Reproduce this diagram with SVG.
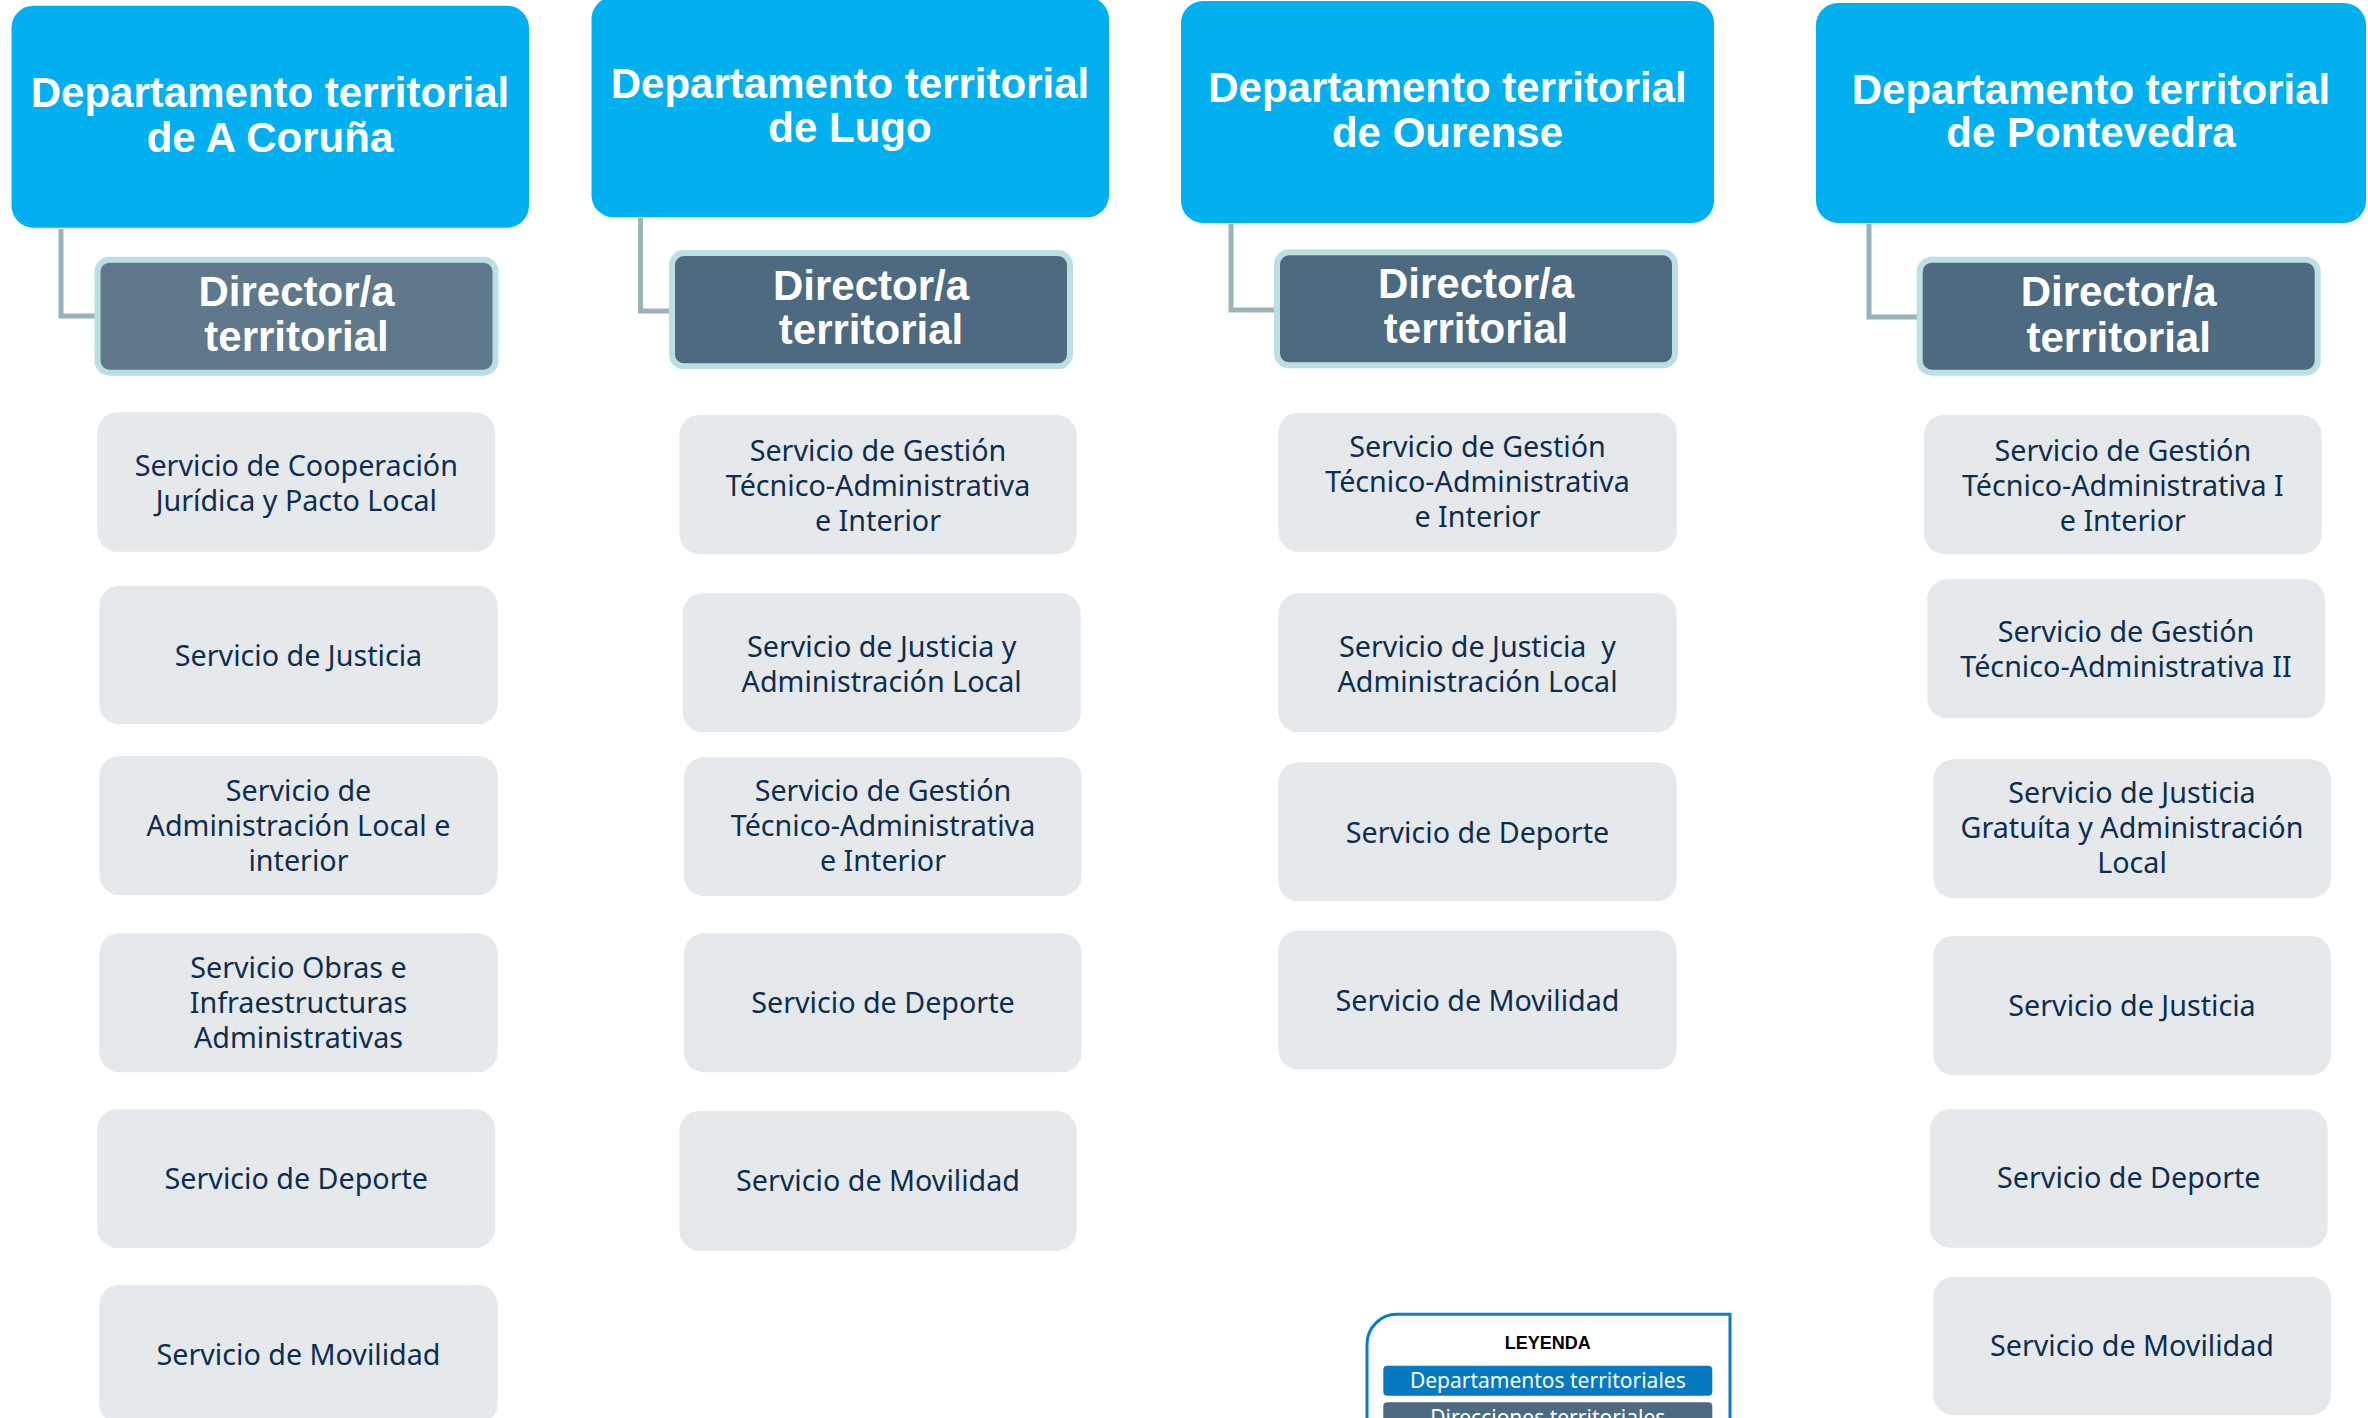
<svg xmlns="http://www.w3.org/2000/svg" width="2368" height="1418" viewBox="0 0 2368 1418">
<style>
.dept rect{fill:#02B0EF}
.dept text,.dir text{font-family:"Liberation Sans",Arial,sans-serif;font-weight:bold;font-size:42px;fill:#fff;text-anchor:middle}
.dir rect{fill:#4D6A80;stroke:#BCDFE3;stroke-width:6}
.svc rect{fill:#E5E9EC}
.svc text{font-family:"Noto Sans","Open Sans",sans-serif;font-size:28.7px;fill:#0F2D4D;text-anchor:middle}
.conn path{fill:none;stroke:#9BB3B5;stroke-width:5}
.lg{font-family:"Noto Sans","Open Sans",sans-serif;font-size:21px;fill:#fff;text-anchor:middle}
</style>
<rect width="2368" height="1418" fill="#fff"/>

<g class="conn" id="connectors">
<path d="M61,229 V316 H95"/>
<path d="M640.5,218 V311 H669"/>
<path d="M1231,224 V310 H1274"/>
<path d="M1869,224 V317 H1917"/>
</g>

<!-- A Coruña -->
<g class="dept" id="dept-coruna"><rect x="11.5" y="5.7" width="517.5" height="222" rx="22"/>
<text x="270" y="107">Departamento territorial</text><text x="270" y="152">de A Coruña</text></g>
<g class="dir" id="dir-coruna"><rect x="97.5" y="259.7" width="398" height="113" rx="12" style="fill:#5F788B"/>
<text x="296.5" y="306">Director/a</text><text x="296.5" y="351">territorial</text></g>
<g class="svc" id="c1"><rect x="97.3" y="412.3" width="398" height="139.4" rx="20"/><text x="296.3" y="475.7">Servicio de Cooperación</text><text x="296.3" y="510.5">Jurídica y Pacto Local</text></g>
<g class="svc" id="c2"><rect x="99.3" y="585.7" width="398.4" height="138.6" rx="20"/><text x="298.5" y="666">Servicio de Justicia</text></g>
<g class="svc" id="c3"><rect x="99.3" y="756" width="398.4" height="139" rx="20"/><text x="298.5" y="800.7">Servicio de</text><text x="298.5" y="835.7">Administración Local e</text><text x="298.5" y="870.7">interior</text></g>
<g class="svc" id="c4"><rect x="99.3" y="933.2" width="398.4" height="139" rx="20"/><text x="298.5" y="978">Servicio Obras e</text><text x="298.5" y="1013">Infraestructuras</text><text x="298.5" y="1048">Administrativas</text></g>
<g class="svc" id="c5"><rect x="97.3" y="1109.2" width="398" height="138.7" rx="20"/><text x="296.3" y="1189">Servicio de Deporte</text></g>
<g class="svc" id="c6"><rect x="99.3" y="1285" width="398.4" height="139" rx="20"/><text x="298.5" y="1365">Servicio de Movilidad</text></g>

<!-- Lugo -->
<g class="dept" id="dept-lugo"><rect x="591.5" y="-3" width="517.5" height="220.3" rx="22"/>
<text x="850" y="98">Departamento territorial</text><text x="850" y="142">de Lugo</text></g>
<g class="dir" id="dir-lugo"><rect x="672" y="253" width="398" height="113.3" rx="12"/>
<text x="871" y="300">Director/a</text><text x="871" y="344">territorial</text></g>
<g class="svc" id="l1"><rect x="679.3" y="415" width="397.4" height="139" rx="20"/><text x="878" y="460.7">Servicio de Gestión</text><text x="878" y="495.7">Técnico-Administrativa</text><text x="878" y="530.7">e Interior</text></g>
<g class="svc" id="l2"><rect x="682.7" y="593.3" width="398" height="139" rx="20"/><text x="881.7" y="656.7">Servicio de Justicia y</text><text x="881.7" y="691.7">Administración Local</text></g>
<g class="svc" id="l3"><rect x="684" y="757.3" width="397.7" height="138.7" rx="20"/><text x="883" y="801">Servicio de Gestión</text><text x="883" y="836">Técnico-Administrativa</text><text x="883" y="871">e Interior</text></g>
<g class="svc" id="l4"><rect x="684" y="933.3" width="397.7" height="139" rx="20"/><text x="883" y="1013.3">Servicio de Deporte</text></g>
<g class="svc" id="l5"><rect x="679.3" y="1111" width="397.4" height="139.7" rx="20"/><text x="878" y="1191">Servicio de Movilidad</text></g>

<!-- Ourense -->
<g class="dept" id="dept-ourense"><rect x="1181" y="1" width="533" height="222" rx="22"/>
<text x="1447.5" y="102">Departamento territorial</text><text x="1447.5" y="147">de Ourense</text></g>
<g class="dir" id="dir-ourense"><rect x="1277" y="252.3" width="398" height="113" rx="12"/>
<text x="1476" y="298">Director/a</text><text x="1476" y="343">territorial</text></g>
<g class="svc" id="o1"><rect x="1278.3" y="412.7" width="398.4" height="139" rx="20"/><text x="1477.5" y="456.7">Servicio de Gestión</text><text x="1477.5" y="491.7">Técnico-Administrativa</text><text x="1477.5" y="526.7">e Interior</text></g>
<g class="svc" id="o2"><rect x="1278.3" y="593.3" width="398.4" height="139" rx="20"/><text x="1477.5" y="656.7" xml:space="preserve">Servicio de Justicia  y</text><text x="1477.5" y="691.5">Administración Local</text></g>
<g class="svc" id="o3"><rect x="1278.3" y="762.3" width="398.4" height="139" rx="20"/><text x="1477.5" y="842.7">Servicio de Deporte</text></g>
<g class="svc" id="o4"><rect x="1278.3" y="930.5" width="398.4" height="139" rx="20"/><text x="1477.5" y="1011">Servicio de Movilidad</text></g>

<!-- Pontevedra -->
<g class="dept" id="dept-pontevedra"><rect x="1816" y="3" width="550" height="220" rx="22"/>
<text x="2091" y="104">Departamento territorial</text><text x="2091" y="147">de Pontevedra</text></g>
<g class="dir" id="dir-pontevedra"><rect x="1919.7" y="259.7" width="398" height="113" rx="12"/>
<text x="2118.7" y="306">Director/a</text><text x="2118.7" y="352">territorial</text></g>
<g class="svc" id="p1"><rect x="1924" y="415" width="397.7" height="139" rx="20"/><text x="2122.8" y="460.7">Servicio de Gestión</text><text x="2122.8" y="495.7">Técnico-Administrativa I</text><text x="2122.8" y="530.7">e Interior</text></g>
<g class="svc" id="p2"><rect x="1927.3" y="579.3" width="397.7" height="139" rx="20"/><text x="2126" y="642.3">Servicio de Gestión</text><text x="2126" y="677.3">Técnico-Administrativa II</text></g>
<g class="svc" id="p3"><rect x="1933.3" y="759.3" width="397.7" height="139" rx="20"/><text x="2132" y="803.3">Servicio de Justicia</text><text x="2132" y="838.3">Gratuíta y Administración</text><text x="2132" y="873.3">Local</text></g>
<g class="svc" id="p4"><rect x="1933.3" y="936" width="397.7" height="139" rx="20"/><text x="2132" y="1016">Servicio de Justicia</text></g>
<g class="svc" id="p5"><rect x="1930" y="1109.3" width="397.7" height="138.4" rx="20"/><text x="2128.8" y="1188.3">Servicio de Deporte</text></g>
<g class="svc" id="p6"><rect x="1933.3" y="1276.7" width="397.7" height="138.3" rx="20"/><text x="2132" y="1356">Servicio de Movilidad</text></g>

<!-- Legend -->
<g id="legend">
<path d="M1367,1440 V1344.3 A30,30 0 0 1 1397,1314.3 H1730 V1440" fill="#fff" stroke="#0A7CC5" stroke-width="3"/>
<text x="1547.8" y="1349" font-family="Liberation Sans,Arial,sans-serif" font-weight="bold" font-size="18" fill="#000" text-anchor="middle">LEYENDA</text>
<rect x="1383.3" y="1365.7" width="329" height="30" rx="4" fill="#0679C1"/>
<text class="lg" x="1547.8" y="1388.3">Departamentos territoriales</text>
<rect x="1383.3" y="1402.3" width="329" height="30" rx="4" fill="#4D6A80"/>
<text class="lg" x="1547.8" y="1425">Direcciones territoriales</text>
</g>
</svg>
